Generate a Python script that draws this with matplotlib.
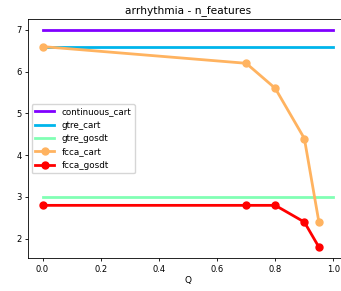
import numpy as np
import matplotlib
matplotlib.use("Agg")
import matplotlib.pyplot as plt

q = [0.0, 0.7, 0.8, 0.9, 0.95]
continuous_cart = 7.0
gtre_cart = 6.6
gtre_gosdt = 3.0
fcca_cart = [6.6, 6.2, 5.6, 4.4, 2.4]
fcca_gosdt = [2.8, 2.8, 2.8, 2.4, 1.8]

colors = plt.cm.rainbow(np.linspace(0, 1, 5))

fig = plt.figure(figsize=(3.41, 2.91), dpi=100)
ax = fig.add_axes([28 / 341, 33 / 291, 320 / 341, 239 / 291])
lw = 2.0
ax.plot([0, 1], [continuous_cart] * 2, color=colors[0], lw=lw, label="continuous_cart")
ax.plot([0, 1], [gtre_cart] * 2, color=colors[1], lw=lw, label="gtre_cart")
ax.plot([0, 1], [gtre_gosdt] * 2, color=colors[2], lw=lw, label="gtre_gosdt")
ax.plot(q, fcca_cart, "o-", color=colors[3], lw=lw, ms=5, label="fcca_cart")
ax.plot(q, fcca_gosdt, "o-", color=colors[4], lw=lw, ms=5, label="fcca_gosdt")

ax.set_xlim(-0.05, 1.05)
ax.set_xticks([0.0, 0.2, 0.4, 0.6, 0.8, 1.0])
ax.tick_params(labelsize=6, length=2.2, width=0.6, pad=2.5)
for s in ax.spines.values():
    s.set_linewidth(0.6)
ax.set_xlabel("Q", fontsize=6.5, labelpad=2)
ax.set_title("arrhythmia - n_features", fontsize=7.7, pad=4)
ax.legend(loc="center left", fontsize=6.3, bbox_to_anchor=(0.0, 0.5),
          handlelength=2.2, borderaxespad=0.4)

fig.savefig("out.png", dpi=100)
